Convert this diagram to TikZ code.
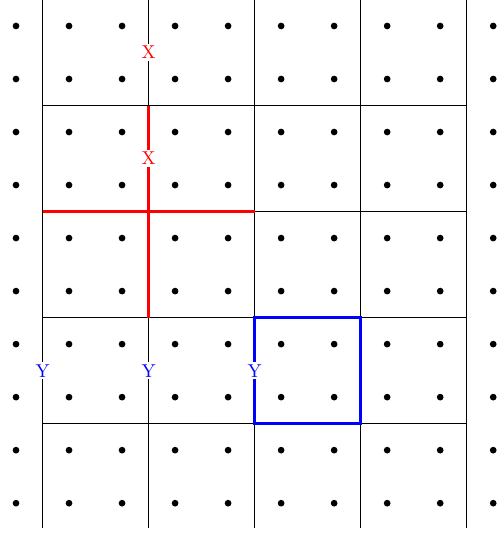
\documentclass[tikz,border=0pt]{standalone}
\begin{document}
\begin{tikzpicture}[x=1cm,y=-1cm,
  gridline/.style={black,line width=0.5pt},
  redline/.style={red,line width=1.5pt},
  blueline/.style={blue,line width=1.5pt},
  dotmark/.style={circle,fill=black,inner sep=0pt,minimum size=3.6pt},
  xlab/.style={fill=white,text=red,inner sep=1pt},
  ylab/.style={fill=white,text=blue,inner sep=1pt}]
\useasboundingbox (-0.302,-0.49) rectangle (9.075,9.60);
% grid lines
\foreach \k in {0.5,2.5,4.5,6.5,8.5}{
  \draw[gridline] (\k,-0.5) -- (\k,9.47);
}
\foreach \k in {1.5,3.5,5.5,7.5}{
  \draw[gridline] (0.5,\k) -- (8.5,\k);
}
% red cross
\coordinate (r1) at (2.5,1.5);
\coordinate (r2) at (2.5,5.5);
\coordinate (r3) at (0.5,3.5);
\coordinate (r4) at (4.5,3.5);
\draw[redline] (r1) -- (r2);
\draw[redline] (r3) -- (r4);
% blue square
\coordinate (b1) at (4.5,5.5);
\coordinate (b2) at (6.5,7.5);
\draw[blueline] (b1) rectangle (b2);
% dots
\foreach \i in {0,...,9}{
  \foreach \j in {0,...,9}{
    \node[dotmark] (d\i\j) at (\i,\j) {};
  }
}
% labels
\node[xlab] (x1) at (2.5,0.5) {X};
\node[xlab] (x2) at (2.5,2.5) {X};
\node[ylab] (y1) at (0.5,6.5) {Y};
\node[ylab] (y2) at (2.5,6.5) {Y};
\node[ylab] (y3) at (4.5,6.5) {Y};
\end{tikzpicture}
\end{document}
